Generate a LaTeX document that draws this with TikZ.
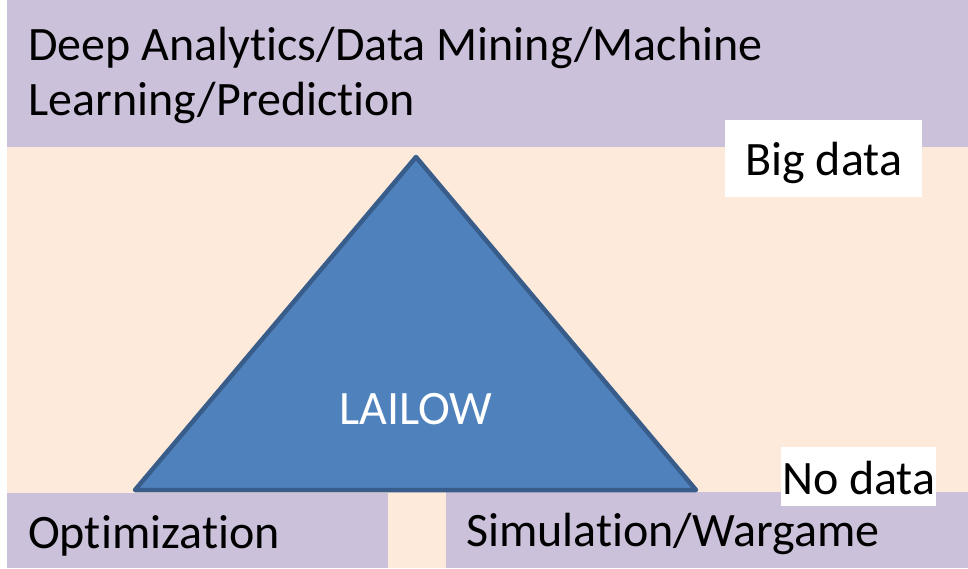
\documentclass[tikz,border=0pt]{standalone}
\usepackage{fontspec}
\setmainfont{Carlito}[Ligatures=NoCommon]
\usetikzlibrary{positioning}
\definecolor{lavender}{RGB}{204,193,218}
\definecolor{peach}{RGB}{253,234,218}
\definecolor{lailowblue}{RGB}{79,129,189}
\definecolor{lailowedge}{RGB}{56,93,138}
\tikzset{band/.style={fill=lavender,draw=none,inner sep=0pt,anchor=north west}}
\tikzset{label/.style={font=\fontsize{48}{55}\selectfont,inner sep=0pt,align=left}}
\tikzset{tag/.style={fill=white,inner sep=0pt,anchor=north west}}

\begin{document}
\begin{tikzpicture}[x=1pt,y=-1pt]
	\useasboundingbox (0,0) rectangle (968,568);
	\fill[peach] (7,0) rectangle (968,568);
	%% purple bands
	\node[band,minimum width=961pt,minimum height=147pt] (top) at (7,0) {};
	\node[band,minimum width=381pt,minimum height=75pt] (optbox) at (7,493) {};
	\node[band,minimum width=522pt,minimum height=76pt] (simbox) at (446,492) {};
	%% triangle
	\coordinate (apex) at (416,157);
	\coordinate (bl) at (135,490);
	\coordinate (br) at (696,490);
	\filldraw[fill=lailowblue,draw=lailowedge,line width=4.5pt,line join=round] (apex) -- (br) -- (bl) -- cycle;
	\node[label,text=white,anchor=base] (lailow) at (416,424) {LAILOW};
	%% white tags
	\node[tag,minimum width=197pt,minimum height=77pt] (bigbox) at (725,120) {};
	\node[tag,minimum width=155pt,minimum height=59pt] (nobox) at (781,447) {};
	\node[label,anchor=base] (big) at (bigbox.center |- 0,175) {Big data};
	\node[label,anchor=base] (nodata) at (nobox.center |- 0,494) {No data};
	%% texts
	\node[label,anchor=base west] (deep) at (28,115) {Deep Analytics/Data Mining/Machine\\Learning/Prediction};
	\node[label,anchor=base west] (opt) at (28,548) {Optimization};
	\node[label,anchor=base west] (sim) at (466,546) {Simulation/Wargame};
\end{tikzpicture}
\end{document}
